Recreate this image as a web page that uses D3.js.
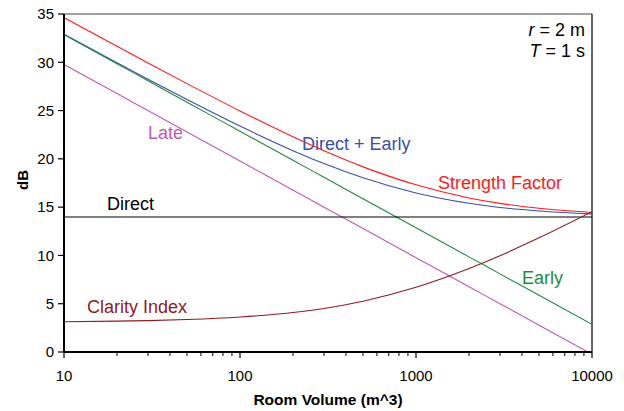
<!DOCTYPE html>
<html>
<head>
<meta charset="utf-8">
<script src="https://cdn.jsdelivr.net/npm/d3@7"></script>
<style>
  body { margin: 0; background: #fff; }
  svg { font-family: Arial, "Liberation Sans", sans-serif; }
</style>
</head>
<body>
<div id="chart"></div>
<script>
// room volumes (m^3) where the curves were read
var volumes = [10, 20, 30, 50, 100, 200, 300, 500, 1000, 2000, 3000, 5000, 10000];

// levels in dB
var strength    = [34.63, 31.66, 29.93, 27.79, 24.96, 22.28, 20.83, 19.17, 17.31, 15.95, 15.39, 14.88, 14.45];
var directEarly = [32.91, 29.96, 28.25, 26.14, 23.39, 20.85, 19.51, 18.04, 16.47, 15.40, 14.97, 14.60, 14.30];
var early       = [32.86, 29.85, 28.09, 25.87, 22.86, 19.85, 18.09, 15.87, 12.86, 9.85, 8.09, 5.87, 2.86];
var late        = [29.77, 26.76, 25.00, 22.78, 19.77, 16.76, 15.00, 12.78, 9.77, 6.76, 5.00, 2.78, -0.23];
var direct      = [13.98, 13.98, 13.98, 13.98, 13.98, 13.98, 13.98, 13.98, 13.98, 13.98, 13.98, 13.98, 13.98];
var clarity     = [3.14, 3.20, 3.25, 3.36, 3.62, 4.09, 4.51, 5.26, 6.70, 8.64, 9.97, 11.82, 14.53];

var xTicks = [10, 100, 1000, 10000];
var yTicks = [0, 5, 10, 15, 20, 25, 30, 35];

var margin = {top: 14, right: 32, bottom: 59, left: 64};
var W = 624, H = 411;
var width = W - margin.left - margin.right,
    height = H - margin.top - margin.bottom;

var series = [
  {name: "Strength Factor", values: strength,    color: "#ff1a1a", lx: 438, ly: 189},
  {name: "Direct + Early",  values: directEarly, color: "#3a4fa8", lx: 302, ly: 150},
  {name: "Early",           values: early,       color: "#1e8a3e", lx: 522, ly: 284},
  {name: "Late",            values: late,        color: "#c259b8", lx: 148, ly: 139},
  {name: "Direct",          values: direct,      color: "#000000", lx: 107, ly: 210},
  {name: "Clarity Index",   values: clarity,     color: "#8e1b1f", lx: 87,  ly: 313}
];

var svg = d3.select("#chart").append("svg")
    .attr("width", W)
    .attr("height", H);

var g = svg.append("g")
    .attr("transform", "translate(" + margin.left + "," + margin.top + ")");

var x = d3.scaleLog().domain([10, 10000]).range([0, width]);
var y = d3.scaleLinear().domain([0, 35]).range([height, 0]);

g.append("clipPath").attr("id", "clip")
  .append("rect").attr("width", width).attr("height", height);

// frame: grey top, black right
g.append("line").attr("x1", 0).attr("x2", width).attr("y1", 0).attr("y2", 0)
    .attr("stroke", "#808080").attr("stroke-width", 1.5);
g.append("line").attr("x1", width).attr("x2", width).attr("y1", 0).attr("y2", height)
    .attr("stroke", "#000").attr("stroke-width", 1.2);

var line = d3.line()
    .x(function(d) { return x(d.v); })
    .y(function(d) { return y(d.db); })
    .curve(d3.curveMonotoneX);

g.append("g").attr("clip-path", "url(#clip)")
  .selectAll("path")
  .data(series)
  .enter().append("path")
    .attr("fill", "none")
    .attr("stroke", function(d) { return d.color; })
    .attr("stroke-width", 1.1)
    .attr("d", function(s) {
      return line(volumes.map(function(v, i) { return {v: v, db: s.values[i]}; }));
    });

// x axis with minor ticks
var minor = [];
for (var dec = 10; dec < 10000; dec *= 10) {
  for (var m = 2; m <= 9; m++) minor.push(dec * m);
}
var xAxis = g.append("g")
    .attr("transform", "translate(0," + height + ")");
xAxis.append("line").attr("x1", 0).attr("x2", width).attr("stroke", "#000").attr("stroke-width", 2);
xAxis.selectAll(".minor").data(minor).enter().append("line")
    .attr("x1", x).attr("x2", x).attr("y1", 0).attr("y2", 4)
    .attr("stroke", "#000").attr("stroke-width", 1);
xAxis.selectAll(".major").data(xTicks).enter().append("line")
    .attr("x1", x).attr("x2", x).attr("y1", 0).attr("y2", 6)
    .attr("stroke", "#000").attr("stroke-width", 1.2);
xAxis.selectAll("text").data(xTicks).enter().append("text")
    .attr("x", x).attr("y", 29)
    .attr("text-anchor", "middle")
    .style("font-size", "15px")
    .text(function(d) { return d; });

// y axis
var yAxis = g.append("g");
yAxis.append("line").attr("y1", 0).attr("y2", height).attr("stroke", "#000").attr("stroke-width", 2);
yAxis.selectAll(".tick").data(yTicks).enter().append("line")
    .attr("x1", -6).attr("x2", 0).attr("y1", y).attr("y2", y)
    .attr("stroke", "#000").attr("stroke-width", 1.2);
yAxis.selectAll("text").data(yTicks).enter().append("text")
    .attr("x", -10).attr("y", function(d) { return y(d); })
    .attr("dy", "0.35em")
    .attr("text-anchor", "end")
    .style("font-size", "15px")
    .text(function(d) { return d; });

// axis titles
svg.append("text")
    .attr("x", 328).attr("y", 405)
    .attr("text-anchor", "middle")
    .style("font-size", "15.5px").style("font-weight", "bold")
    .text("Room Volume (m^3)");

svg.append("text")
    .attr("transform", "translate(28,180)rotate(-90)")
    .attr("text-anchor", "middle")
    .style("font-size", "15px").style("font-weight", "bold")
    .text("dB");

// series labels
svg.selectAll(".label")
  .data(series)
  .enter().append("text")
    .attr("class", "label")
    .attr("x", function(d) { return d.lx; })
    .attr("y", function(d) { return d.ly; })
    .attr("fill", function(d) { return d.color; })
    .style("font-size", "18px")
    .text(function(d) { return d.name; });

// conditions
var cond = svg.append("text")
    .attr("text-anchor", "end")
    .style("font-size", "18px");
var l1 = cond.append("tspan").attr("x", 585).attr("y", 36);
l1.append("tspan").style("font-style", "italic").text("r");
l1.append("tspan").text(" = 2 m");
var l2 = cond.append("tspan").attr("x", 585).attr("y", 57);
l2.append("tspan").style("font-style", "italic").text("T");
l2.append("tspan").text(" = 1 s");
</script>
</body>
</html>
